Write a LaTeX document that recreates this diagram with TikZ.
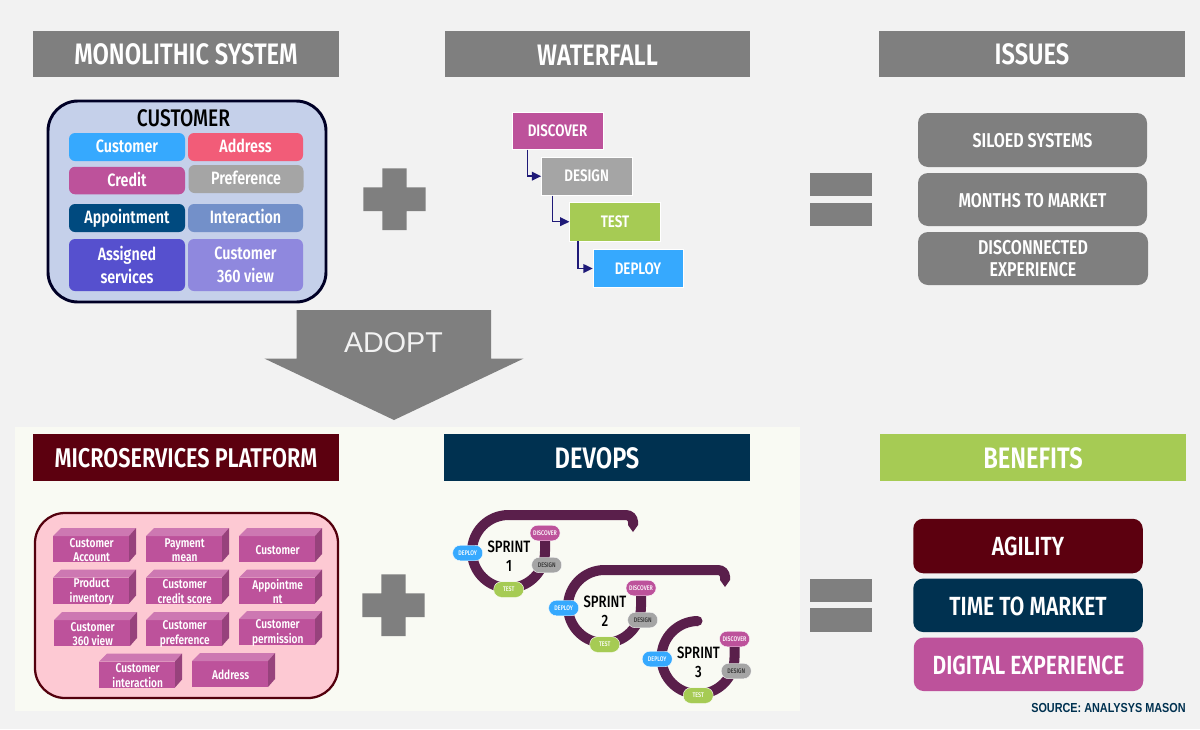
\documentclass[tikz,border=0pt]{standalone}
\usepackage{fontspec}
\setmainfont[FakeStretch=0.8,UprightFont=* Medium,BoldFont=* SemiBold]{Fira Sans}
\newfontfamily\arialfont{Liberation Sans}
\newfontfamily\sourcefont[FakeStretch=0.83]{Liberation Sans}
\usetikzlibrary{arrows.meta}
\definecolor{pagegrey}{RGB}{242,242,242}
\definecolor{panelcream}{RGB}{249,250,243}
\definecolor{headgrey}{RGB}{127,127,127}
\definecolor{maroondark}{RGB}{92,0,15}
\definecolor{navydark}{RGB}{0,49,80}
\definecolor{limegreen}{RGB}{166,203,84}
\definecolor{skyblue}{RGB}{54,169,254}
\definecolor{rosered}{RGB}{242,92,120}
\definecolor{orchid}{RGB}{189,82,155}
\definecolor{midgrey}{RGB}{165,165,165}
\definecolor{deepblue}{RGB}{0,74,127}
\definecolor{steelblue}{RGB}{115,144,201}
\definecolor{indigo}{RGB}{86,80,206}
\definecolor{lavender}{RGB}{143,136,222}
\definecolor{paleblue}{RGB}{197,208,234}
\definecolor{pinkpale}{RGB}{253,201,211}
\definecolor{ringplum}{RGB}{90,31,75}
\definecolor{arrownavy}{RGB}{31,26,120}
\definecolor{orchidlight}{RGB}{205,120,178}
\definecolor{orchiddark}{RGB}{151,66,124}
\tikzset{
  boxsize/.style 2 args={minimum width=#1*0.75pt,minimum height=#2*0.75pt,inner sep=0pt},
  headbox/.style={fill=#1,text=white,text height=16.8pt,font=\bfseries\fontsize{22.2}{26}\selectfont},
  cellbox/.style={fill=#1,text=white,rounded corners=4.5pt,align=center,font=\bfseries\fontsize{13.4}{17}\selectfont},
  cellline/.style={text height=11.2pt,text depth=2.5pt},
  stepbox/.style={fill=#1,draw=white,line width=0.4pt,text=white,font=\bfseries\fontsize{12.5}{14}\selectfont},
  listbox/.style={fill=#1,text=white,rounded corners=7.5pt,align=center,font=\bfseries\fontsize{15}{17}\selectfont},
  listline/.style={text height=11.8pt},
  bigbox/.style={fill=#1,text=white,rounded corners=7.5pt,text height=15.1pt,font=\bfseries\fontsize{19.7}{23}\selectfont},
  pillbox/.style={fill=#1,draw=white,line width=0.3pt,text=white,rounded corners=5.6pt,font=\fontsize{5}{6}\selectfont,boxsize={30}{15.5}},
  sprintlabel/.style={align=center,inner sep=0pt,font=\fontsize{12.3}{14.3}\selectfont},
  ring/.style={draw=ringplum,line width=7.5pt},
  stepline/.style={draw=arrownavy,line width=1.1pt,-{Triangle[length=7pt,width=6.5pt]}},
}
\newcommand{\cubebox}[4]{%
  \fill[orchid] (#2,#3+8) rectangle (#2+76,#3+34);
  \fill[orchidlight] (#2,#3+8) -- (#2+8,#3) -- (#2+83,#3) -- (#2+76,#3+8) -- cycle;
  \fill[orchiddark] (#2+76,#3+8) -- (#2+83,#3) -- (#2+83,#3+26) -- (#2+76,#3+34) -- cycle;
  \node[text=white,inner sep=0pt,align=center,font=\bfseries\fontsize{9.5}{10.9}\selectfont] (#1) at (#2+38.7,#3+22) {#4};
}
\begin{document}
\begin{tikzpicture}[x=0.75pt,y=0.75pt,yscale=-1,xscale=1]
\useasboundingbox (0,0) rectangle (1200,729);
\fill[pagegrey] (0,0) rectangle (1200,729);
\fill[panelcream] (15,427) rectangle (800,711);

%Shape: headers
\node[headbox=headgrey,boxsize={306}{46}] (monolithic) at (186,54) {MONOLITHIC SYSTEM};
\node[headbox=headgrey,boxsize={305}{46}] (waterfall) at (597.5,54) {WATERFALL};
\node[headbox=headgrey,boxsize={306}{46}] (issues) at (1032,54) {ISSUES};
\node[headbox=maroondark,boxsize={306}{47},text height=15.5pt,font=\bfseries\fontsize{20.3}{24}\selectfont] (microservices) at (186,457.5) {MICROSERVICES PLATFORM};
\node[headbox=navydark,boxsize={306}{47}] (devops) at (597,457.5) {DEVOPS};
\node[headbox=limegreen,boxsize={306}{47}] (benefits) at (1033,457.5) {BENEFITS};

%Shape: customer frame
\node[fill=paleblue,draw=black!85!blue,line width=2.2pt,rounded corners=22.5pt,boxsize={278}{201}] (customerframe) at (187,201.5) {};
\node[inner sep=0pt,font=\fontsize{18}{21}\selectfont] (customertitle) at (183.5,118) {CUSTOMER};
\node[cellbox=skyblue,cellline,boxsize={116}{28}] (customer) at (127,147) {Customer};
\node[cellbox=rosered,cellline,boxsize={115}{28}] (address) at (245.5,147) {Address};
\node[cellbox=orchid,cellline,boxsize={116}{27.5}] (credit) at (127,180.5) {Credit};
\node[cellbox=midgrey,cellline,boxsize={115}{28}] (preference) at (246,179) {Preference};
\node[cellbox=deepblue,cellline,boxsize={116}{28}] (appointment) at (127,218) {Appointment};
\node[cellbox=steelblue,cellline,boxsize={115}{28}] (interaction) at (245.5,218) {Interaction};
\node[cellbox=indigo,boxsize={116}{52}] (assigned) at (127,265) {Assigned\\services};
\node[cellbox=lavender,boxsize={115}{52}] (customerview) at (245.5,265) {Customer\\360 view};

%Shape: plus signs
\fill[headgrey] (382.3,168.3) -- (406.7,168.3) -- (406.7,187.3) -- (425.7,187.3) -- (425.7,211) -- (406.7,211) -- (406.7,230) -- (382.3,230) -- (382.3,211) -- (363.3,211) -- (363.3,187.3) -- (382.3,187.3) -- cycle;
\fill[headgrey] (381.3,574.3) -- (405.7,574.3) -- (405.7,593.3) -- (424.7,593.3) -- (424.7,617) -- (405.7,617) -- (405.7,636) -- (381.3,636) -- (381.3,617) -- (362.3,617) -- (362.3,593.3) -- (381.3,593.3) -- cycle;

%Shape: equals signs
\fill[headgrey] (810,173) rectangle (872,196);
\fill[headgrey] (810,203) rectangle (872,226);
\fill[headgrey] (810,578.5) rectangle (872,602);
\fill[headgrey] (810,608) rectangle (872,632);

%Shape: waterfall steps
\node[stepbox=orchid,boxsize={91}{37.5}] (discover) at (557.5,130.7) {DISCOVER};
\node[stepbox=midgrey,boxsize={90.5}{38.5}] (design) at (586.7,176.2) {DESIGN};
\node[stepbox=limegreen,boxsize={90.5}{38.5}] (test) at (615,221.7) {TEST};
\node[stepbox=skyblue,boxsize={90}{38}] (deploy) at (638,268.5) {DEPLOY};

%Straight Lines
\draw[stepline] ([xshift=12pt]discover.south west) |- (design.west);
\draw[stepline] ([xshift=8.6pt]design.south west) |- (test.west);
\draw[stepline] ([xshift=6.4pt]test.south west) |- (deploy.west);

%Shape: issues
\node[listbox=headgrey,listline,boxsize={229}{54}] (siloed) at (1032.5,140) {SILOED SYSTEMS};
\node[listbox=headgrey,listline,boxsize={229}{53}] (months) at (1032.5,199.5) {MONTHS TO MARKET};
\node[listbox=headgrey,boxsize={230}{53}] (disconnected) at (1033,258.5) {DISCONNECTED\\EXPERIENCE};

%Shape: adopt arrow
\fill[headgrey] (296.7,310) -- (491,310) -- (491,358.5) -- (523.7,358.5) -- (394,420) -- (264.3,358.5) -- (296.7,358.5) -- cycle;
\node[inner sep=0pt,text=pagegrey,font=\arialfont\fontsize{21.5}{26}\selectfont] (adopt) at (393.5,343) {ADOPT};

%Shape: microservices frame
\node[fill=pinkpale,draw=maroondark!90!black,line width=1.7pt,rounded corners=22.5pt,boxsize={303}{185}] (platform) at (186.5,605.5) {};
\cubebox{account}{53}{528}{Customer\\Account}
\cubebox{payment}{146}{528}{Payment\\mean}
\cubebox{customerms}{239}{528}{Customer}
\cubebox{product}{53}{569.5}{Product\\inventory}
\cubebox{creditscore}{146}{569.5}{Customer\\credit score}
\cubebox{appointms}{239}{569.5}{Appointme\\nt}
\cubebox{viewms}{54}{612}{Customer\\360 view}
\cubebox{preferms}{146}{612}{Customer\\preference}
\cubebox{permission}{239}{611}{Customer\\permission}
\cubebox{interactms}{99}{653.5}{Customer\\interaction}
\cubebox{addressms}{192}{653}{Address}

%Shape: sprint 1
\draw[ring] (545,533) -- (545,551.5) arc[start angle=0,end angle=270,radius=36.5] -- (626,515) arc[start angle=270,end angle=360,radius=7];
\fill[ringplum] (628,521) -- (628,525) -- (633,532) -- (638,525) -- (638,521) -- cycle;
\node[pillbox=orchid] (discoverone) at (545,533) {DISCOVER};
\node[pillbox=midgrey,text=black!80] (designone) at (546.7,565) {DESIGN};
\node[pillbox=limegreen] (testone) at (508.7,589.5) {TEST};
\node[pillbox=skyblue] (deployone) at (467.7,553) {DEPLOY};
\node[sprintlabel] (sprintone) at (509,556.5) {SPRINT\\1};

%Shape: sprint 2
\draw[ring] (641,588) -- (641,606.5) arc[start angle=0,end angle=270,radius=36.5] -- (718,570) arc[start angle=270,end angle=360,radius=7];
\fill[ringplum] (720,576) -- (720,580) -- (725,587) -- (730,580) -- (730,576) -- cycle;
\node[pillbox=orchid] (discovertwo) at (641,588) {DISCOVER};
\node[pillbox=midgrey,text=black!80] (designtwo) at (642.7,620) {DESIGN};
\node[pillbox=limegreen] (testtwo) at (604.7,644.5) {TEST};
\node[pillbox=skyblue] (deploytwo) at (563.7,608) {DEPLOY};
\node[sprintlabel] (sprinttwo) at (605,611.5) {SPRINT\\2};

%Shape: sprint 3
\draw[ring] (734.5,639) -- (734.5,657.5) arc[start angle=0,end angle=270,radius=36.5];
\fill[ringplum] (697.5,621) circle (5);
\node[pillbox=orchid] (discoverthree) at (734.5,639) {DISCOVER};
\node[pillbox=midgrey,text=black!80] (designthree) at (736.2,671) {DESIGN};
\node[pillbox=limegreen] (testthree) at (698.2,695.5) {TEST};
\node[pillbox=skyblue] (deploythree) at (657.2,659) {DEPLOY};
\node[sprintlabel] (sprintthree) at (698.5,662.5) {SPRINT\\3};

%Shape: benefits
\node[bigbox=maroondark,boxsize={229.5}{54.5}] (agility) at (1028,546) {AGILITY};
\node[bigbox=navydark,boxsize={229.5}{53.5}] (timemarket) at (1028,605.3) {TIME TO MARKET};
\node[bigbox=orchid,boxsize={229.5}{53.5}] (digital) at (1028.5,664.3) {DIGITAL EXPERIENCE};
\node[anchor=east,inner sep=0pt,text=navydark,font=\sourcefont\bfseries\fontsize{9.8}{11}\selectfont] (source) at (1186,708) {SOURCE: ANALYSYS MASON};

\end{tikzpicture}
\end{document}
